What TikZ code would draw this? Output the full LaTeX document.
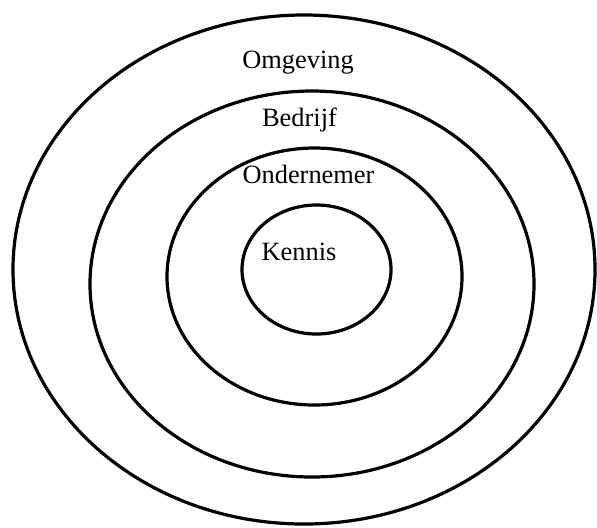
\documentclass[tikz,border=0pt]{standalone}
\usepackage{fontspec}
\setmainfont{Liberation Serif}
\usetikzlibrary{shapes.geometric, positioning}
\tikzset{
  ring/.style = {draw, ellipse, line width=1.6pt, inner sep=0pt},
  lbl/.style  = {font=\fontsize{13.2}{16}\selectfont, inner sep=1pt},
}

\begin{document}
\begin{tikzpicture}[x=0.5pt, y=-0.5pt]

%% -- canvas ------------------------------------------------------------------
\useasboundingbox (0,0) rectangle (597,527);

%% -- rings -------------------------------------------------------------------
\node[ring, minimum width=291pt,   minimum height=254.5pt] (omg)  at (304,269.5)   {};
\node[ring, minimum width=222pt,   minimum height=193pt]   (bedr) at (312,284)     {};
\node[ring, minimum width=147.5pt, minimum height=128.5pt] (ond)  at (314.5,276.5) {};
\node[ring, minimum width=74.5pt,  minimum height=64.5pt]  (ken)  at (316.5,269.5) {};

%% -- labels ------------------------------------------------------------------
\node[lbl] (tomg)  at ([xshift=-3pt, yshift=-24.5pt]omg.north)    {Omgeving};
\node[lbl] (tbedr) at ([xshift=-6.25pt, yshift=-15.5pt]bedr.north) {Bedrijf};
\node[lbl] (tond)  at ([xshift=-3pt, yshift=-14.25pt]ond.north)   {Ondernemer};
\node[lbl] (tken)  at ([xshift=-8.75pt, yshift=-24pt]ken.north)   {Kennis};

\end{tikzpicture}
\end{document}
